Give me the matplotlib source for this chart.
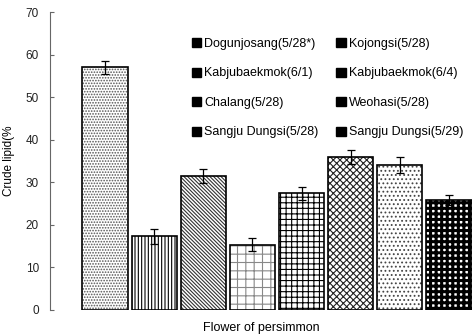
import matplotlib; matplotlib.use("Agg")
import matplotlib.pyplot as plt
from matplotlib.patches import Patch
import numpy as np

plt.rcParams['font.family'] = ['Liberation Sans', 'DejaVu Sans']
plt.rcParams['hatch.linewidth'] = 0.8

# data
labels = ["Dogunjosang(5/28*)", "Kojongsi(5/28)", "Kabjubaekmok(6/1)", "Kabjubaekmok(6/4)",
          "Chalang(5/28)", "Weohasi(5/28)", "Sangju Dungsi(5/28)", "Sangju Dungsi(5/29)"]
lipid = [57.0, 17.3, 31.5, 15.3, 27.4, 36.0, 34.0, 25.8]
err = [1.6, 1.8, 1.7, 1.5, 1.6, 1.6, 1.9, 1.2]
hatches = ['......', '|||||', '\\\\\\\\\\\\\\\\\\', '++', '+++', 'xxxxx', '....', '+++']
hatch_lw = [0.8, 0.8, 0.8, 0.8, 0.8, 0.8, 0.8, 2.2]
hcolors = ['#555555', 'black', '#333333', '#888888', 'black', '#222222', '#444444', 'black']

fig = plt.figure(figsize=(4.72, 3.34), dpi=100)
ax = fig.add_axes([0.106, 0.072, 0.894, 0.892])

x = np.arange(len(lipid))
for i in x:
    b = ax.bar(i, lipid[i], 0.92, color='white', edgecolor=hcolors[i], hatch=hatches[i], lw=0)
    try:
        b[0].set_hatch_linewidth(hatch_lw[i])
    except AttributeError:
        pass
    ax.bar(i, lipid[i], 0.92, color='none', edgecolor='black', lw=1.2)
ax.errorbar(x, lipid, yerr=err, fmt='none', ecolor='black', elinewidth=0.9, capsize=3, capthick=0.9)

ax.set_xlim(-1.12, 7.47)
ax.set_ylim(0, 70)
ax.set_yticks(range(0, 71, 10))
ax.set_xticks([])
for s in ['top', 'right', 'bottom']:
    ax.spines[s].set_visible(False)
ax.spines['left'].set_color('#666666')
ax.spines['left'].set_linewidth(0.8)
ax.tick_params(axis='y', direction='in', length=3, color='#666666', labelsize=8.5, pad=8,
               labelcolor='#222222')
ax.set_ylabel("Crude lipid(%", fontsize=8.5, labelpad=8)
ax.set_xlabel("Flower of persimmon", fontsize=9, labelpad=9)

order = [0, 2, 4, 6, 1, 3, 5, 7]
handles = [Patch(facecolor='black', edgecolor='black', label=labels[i]) for i in order]
ax.legend(handles=handles, ncol=2, loc='upper left', bbox_to_anchor=(0.382, 0.92),
          bbox_transform=fig.transFigure, frameon=False, fontsize=9,
          handlelength=0.75, handleheight=0.75, handletextpad=0.25,
          labelspacing=1.4, columnspacing=1.45)

fig.savefig("out.png", dpi=100)
